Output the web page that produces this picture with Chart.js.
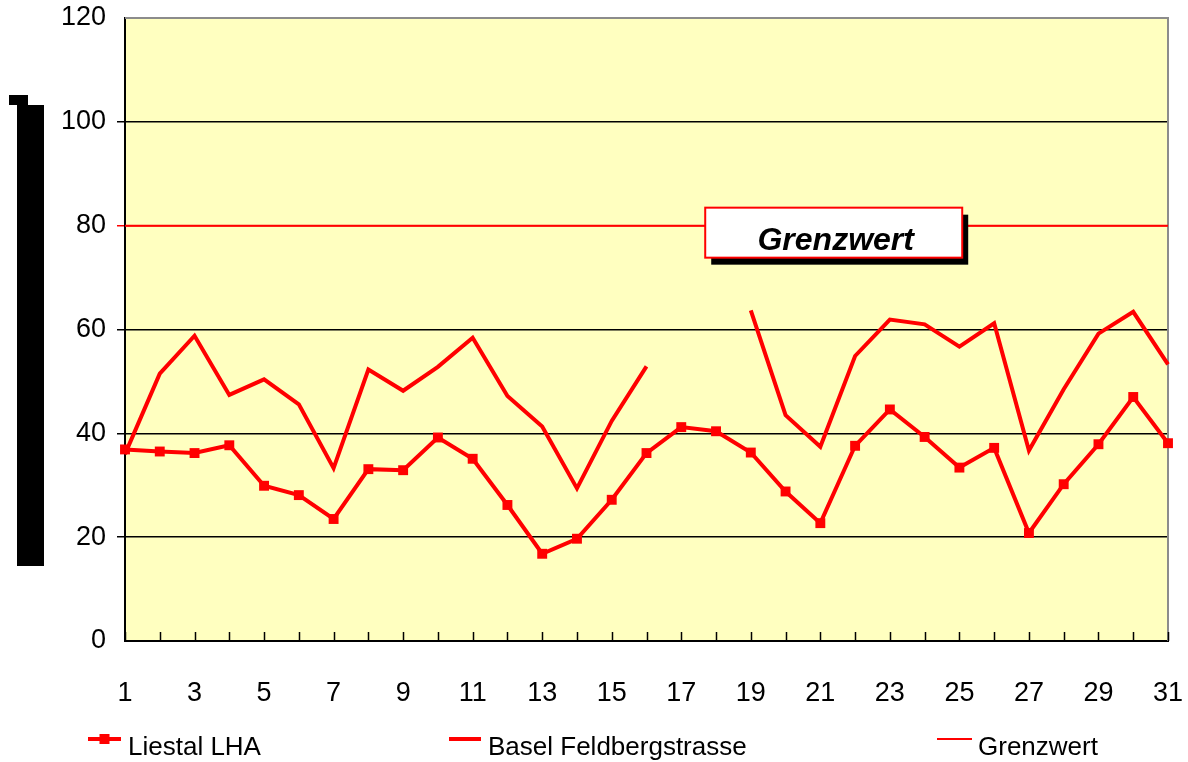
<!DOCTYPE html>
<html>
<head>
<meta charset="utf-8">
<script src="https://cdn.jsdelivr.net/npm/chart.js@4.4.0/dist/chart.umd.min.js"></script>
<style>
  html,body{margin:0;padding:0;background:#fff;}
  #wrap{position:relative;width:1188px;height:762px;}
</style>
</head>
<body>
<div id="wrap"><canvas id="c" width="1188" height="762"></canvas></div>
<script>
const days = ['1','2','3','4','5','6','7','8','9','10','11','12','13','14','15','16','17','18','19','20','21','22','23','24','25','26','27','28','29','30','31'];
const liestalLHA = [36.9,36.5,36.2,37.7,29.9,28.1,23.5,33.1,32.9,39.2,35.1,26.2,16.8,19.7,27.2,36.2,41.2,40.4,36.3,28.8,22.7,37.6,44.6,39.3,33.4,37.2,20.8,30.2,37.9,47.0,38.1];
const baselFeldbergstrasse = [36.0,51.5,58.8,47.4,50.4,45.6,33.3,52.3,48.2,52.8,58.4,47.2,41.3,29.4,42.4,52.9,null,null,63.7,43.5,37.4,54.9,61.9,61.0,56.7,61.2,36.7,48.5,59.2,63.4,53.3];
const grenzwertValue = 80;
const grenzwert = days.map(() => grenzwertValue);
const yTicks = [0,20,40,60,80,100,120];
const seriesNames = ['Liestal LHA','Basel Feldbergstrasse','Grenzwert'];
const boxLabel = 'Grenzwert';

const FONT = '"Liberation Sans", Arial, sans-serif';
const RED = '#ff0000';

const bgPlugin = {
  id: 'bg',
  beforeDraw(chart) {
    const {ctx, chartArea: a} = chart;
    ctx.save();
    ctx.fillStyle = '#ffffc0';
    ctx.fillRect(a.left, a.top, a.right - a.left, a.bottom - a.top);
    // decorative black block (garbled axis title)
    ctx.fillStyle = '#000';
    ctx.fillRect(9, 95, 19, 10);
    ctx.fillRect(17, 105, 27, 461);
    ctx.restore();
  },
  beforeDatasetsDraw(chart) {
    const {ctx, chartArea: a, scales} = chart;
    ctx.save();
    // gray top/right border
    ctx.strokeStyle = '#8c8c8c';
    ctx.lineWidth = 2;
    ctx.beginPath();
    ctx.moveTo(a.left, a.top);
    ctx.lineTo(a.right, a.top);
    ctx.lineTo(a.right, a.bottom);
    ctx.stroke();
    // inward x ticks
    ctx.strokeStyle = '#000';
    ctx.lineWidth = 1.5;
    ctx.beginPath();
    for (let i = 0; i < days.length; i++) {
      const x = Math.round(scales.x.getPixelForValue(i)) + 0.5;
      ctx.moveTo(x, a.bottom);
      ctx.lineTo(x, a.bottom - 9);
    }
    ctx.stroke();
    ctx.restore();
  },
  afterDraw(chart) {
    const {ctx, scales} = chart;
    ctx.save();
    // Grenzwert label box
    const cx = scales.x.getPixelForValue(20.5) - 4;
    const cy = scales.y.getPixelForValue(grenzwertValue) + 7;
    const w = 257, h = 50;
    const x0 = cx - w / 2, y0 = cy - h / 2;
    ctx.fillStyle = '#000';
    ctx.fillRect(x0 + 6, y0 + 7, w, h);
    ctx.fillStyle = '#fff';
    ctx.fillRect(x0, y0, w, h);
    ctx.strokeStyle = RED;
    ctx.lineWidth = 2;
    ctx.strokeRect(x0, y0, w, h);
    ctx.fillStyle = '#000';
    ctx.font = 'italic bold 32px ' + FONT;
    ctx.textAlign = 'center';
    ctx.textBaseline = 'alphabetic';
    ctx.fillText(boxLabel, cx + 2, y0 + 42);

    // legend
    const ly = 739;
    const items = [
      {x0: 88, x1: 121, tx: 128, lw: 4, marker: true},
      {x0: 449, x1: 481, tx: 488, lw: 4, marker: false},
      {x0: 937, x1: 972, tx: 978, lw: 2, marker: false}
    ];
    ctx.textAlign = 'left';
    ctx.font = '26px ' + FONT;
    items.forEach((it, i) => {
      ctx.strokeStyle = RED;
      ctx.lineWidth = it.lw;
      ctx.beginPath();
      ctx.moveTo(it.x0, ly);
      ctx.lineTo(it.x1, ly);
      ctx.stroke();
      if (it.marker) {
        ctx.fillStyle = RED;
        const mx = (it.x0 + it.x1) / 2;
        ctx.fillRect(mx - 5, ly - 5, 10, 10);
      }
      ctx.fillStyle = '#000';
      ctx.fillText(chart.data.datasets[i].label, it.tx, 755);
    });
    ctx.restore();
  }
};

new Chart(document.getElementById('c'), {
  type: 'line',
  data: {
    labels: days,
    datasets: [
      {
        label: seriesNames[0],
        data: liestalLHA,
        borderColor: RED,
        backgroundColor: RED,
        borderWidth: 4,
        pointStyle: 'rect',
        pointRadius: 7,
        pointBorderWidth: 0,
        tension: 0,
        order: 1
      },
      {
        label: seriesNames[1],
        data: baselFeldbergstrasse,
        borderColor: RED,
        backgroundColor: RED,
        borderWidth: 4,
        pointRadius: 0,
        spanGaps: false,
        tension: 0,
        order: 2
      },
      {
        label: seriesNames[2],
        data: grenzwert,
        borderColor: RED,
        backgroundColor: RED,
        borderWidth: 2,
        pointRadius: 0,
        tension: 0,
        order: 3
      }
    ]
  },
  options: {
    responsive: false,
    animation: false,
    devicePixelRatio: 1,
    layout: {padding: {top: 18, right: 20, left: 0, bottom: 0}},
    plugins: {legend: {display: false}, tooltip: {enabled: false}},
    elements: {line: {borderCapStyle: 'butt', borderJoinStyle: 'miter'}},
    scales: {
      x: {
        offset: false,
        grid: {display: true, drawOnChartArea: false, drawTicks: false},
        border: {display: true, color: '#000', width: 2},
        ticks: {
          autoSkip: false,
          maxRotation: 0,
          padding: 36,
          color: '#000',
          font: {family: FONT, size: 27},
          callback: function(v, i) { return i % 2 === 0 ? days[i] : ''; }
        },
        afterFit(scale) {
          scale.height = 121;
          scale.paddingLeft = 0;
          scale.paddingRight = 0;
        }
      },
      y: {
        min: 0,
        max: 120,
        afterBuildTicks(scale) { scale.ticks = yTicks.map(v => ({value: v})); },
        grid: {
          color: (c) => (c.tick && c.tick.value === grenzwertValue) ? RED : '#000',
          lineWidth: (c) => (c.tick && (c.tick.value === 0 || c.tick.value === 120)) ? 0 : 1.5,
          tickLength: 8,
          drawTicks: true
        },
        border: {display: true, color: '#000', width: 2},
        ticks: {
          padding: 11,
          color: '#000',
          font: {family: FONT, size: 27}
        },
        afterFit(scale) {
          scale.width = 125;
          scale.paddingTop = 0;
          scale.paddingBottom = 0;
        }
      }
    }
  },
  plugins: [bgPlugin]
});
</script>
</body>
</html>
